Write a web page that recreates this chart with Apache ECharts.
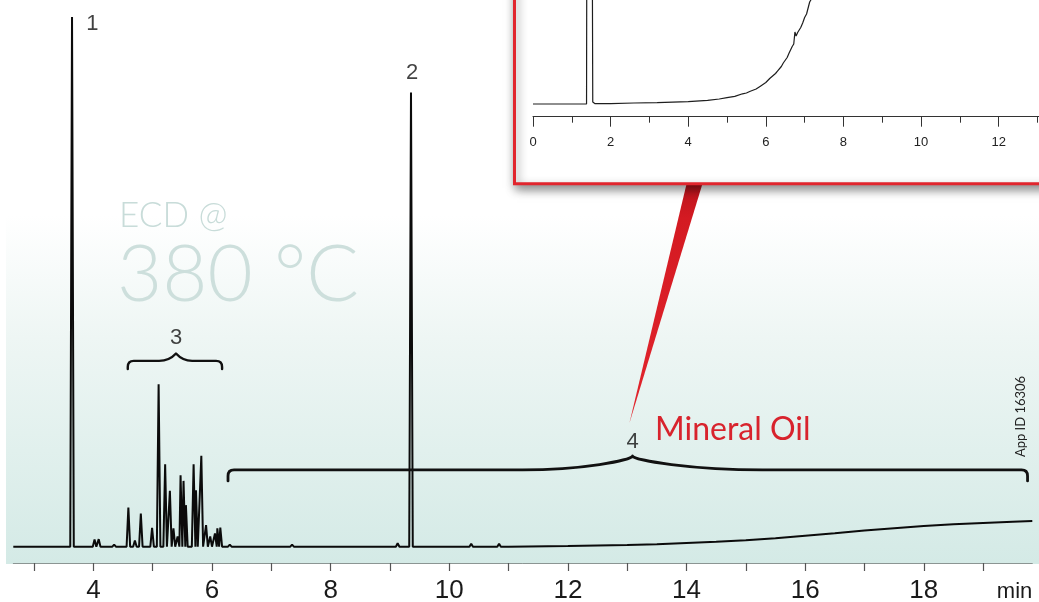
<!DOCTYPE html>
<html>
<head>
<meta charset="utf-8">
<script src="https://cdn.jsdelivr.net/npm/echarts@6/dist/echarts.min.js"></script>
<style>
  html, body { margin: 0; padding: 0; background: #ffffff; }
  #chart { width: 1039px; height: 602px; }
</style>
</head>
<body>
<div id="chart"></div>
<script>
// ECD trace, main run: retention time (min) and peak height (response units above baseline)
const peakTimes = [3.64, 4.02, 4.09, 4.35, 4.59, 4.70, 4.80, 4.99, 5.10, 5.21, 5.29, 5.35, 5.42,
  5.47, 5.52, 5.56, 5.69, 5.73, 5.82, 5.90, 5.97, 6.05, 6.09, 6.14, 6.30, 7.35, 7.67, 8.72, 9.13,
  9.355, 10.37, 10.84];
const peakHeights = [260, 3.6, 3.7, 1.0, 19.2, 3.0, 16.3, 9.2, 79.7, 40.4, 27.4, 9.0, 5.0,
  35.1, 32.3, 20.4, 40.5, 27.7, 44.6, 10.6, 5.0, 6.5, 9.0, 9.4, 1.0, 1.0, 0.7, 0.7, 1.7,
  223, 1.5, 1.5];
const peakHalfWidth = 0.03;

// Baseline rise from the mineral oil hump (peak 4)
const driftTimes = [2.65, 11.0, 12.0, 13.0, 13.5, 14.0, 14.5, 15.0, 15.5, 16.0, 16.5, 17.0,
  17.5, 18.0, 18.5, 19.0, 19.5, 19.83];
const driftLevels = [0, 0, 0.3, 0.8, 1.2, 1.8, 2.4, 3.2, 4.2, 5.4, 6.6, 7.9,
  9.1, 10.2, 11.0, 11.6, 12.2, 12.6];

// Time axis
const tickValues = [3, 4, 5, 6, 7, 8, 9, 10, 11, 12, 13, 14, 15, 16, 17, 18, 19];
const labelValues = [4, 6, 8, 10, 12, 14, 16, 18];

// Inset: same sample at a lower temperature
const insetTimes = [0, 1.38, 1.40, 1.50, 1.54, 1.60, 2.0, 2.6, 3.2, 4.0, 4.5, 4.8, 5.0, 5.2,
  5.4, 5.5, 5.6, 5.75, 5.85, 6.0, 6.1, 6.15, 6.25, 6.3, 6.4, 6.45, 6.55, 6.6, 6.68, 6.72,
  6.75, 6.78, 6.82, 6.9, 6.95, 7.0, 7.05, 7.13, 7.25];
const insetLevels = [0, 0, 500, 500, 2.0, 0.3, 0.4, 1.0, 1.3, 2.3, 3.6, 5.0, 6.3, 7.6,
  10.2, 11.0, 12.8, 15.0, 17.6, 21.5, 25.5, 24.6, 30.5, 32.8, 37.5, 41.0, 46.5, 51.0, 57.5, 60.0,
  72.0, 68.0, 71.5, 76.5, 81.0, 86.5, 90.0, 102, 110];

// Peak numbers and their positions
const peakLabelTexts = ['1', '2', '3', '4'];
const peakLabelTimes = [3.985, 9.372, 5.393, 13.09];
const peakLabelLevels = [256.6, 232.5, 102.5, 51.4];

// Braces: start, end, cusp time, arm level, tip level, cusp level
const braceStarts = [4.58, 6.27];
const braceEnds = [6.17, 19.75];
const braceCusps = [5.393, 13.09];
const braceArmLevels = [91.2, 37.7];
const braceTipLevels = [87.2, 32.3];
const braceCuspLevels = [94.8, 44.5];

function buildTrace() {
  const pts = [[driftTimes[0], driftLevels[0]]];
  for (let i = 0; i < peakTimes.length; i++) {
    const t = peakTimes[i];
    pts.push([t - peakHalfWidth, 0], [t, peakHeights[i]], [t + peakHalfWidth, 0]);
  }
  for (let i = 1; i < driftTimes.length; i++) pts.push([driftTimes[i], driftLevels[i]]);
  return pts;
}

const braceData = braceStarts.map((s, i) => [s, braceEnds[i], braceCusps[i],
  braceArmLevels[i], braceTipLevels[i], braceCuspLevels[i]]);

function renderBrace(params, api) {
  const a = api.coord([api.value(0), api.value(3)]);
  const b = api.coord([api.value(1), api.value(3)]);
  const c = api.coord([api.value(2), api.value(5)]);
  const tip = api.coord([api.value(0), api.value(4)]);
  const y = a[1], yt = tip[1], yc = c[1], x0 = a[0], x1 = b[0], xc = c[0];
  const r = Math.min(6, (yt - y));
  const wl = Math.min(110, (xc - x0) * 0.35);
  const wr = Math.min(130, (x1 - xc) * 0.35);
  const h = y - yc;
  const d = [
    'M', x0, yt,
    'L', x0, y + r,
    'Q', x0, y, x0 + r, y,
    'L', xc - wl, y,
    'C', xc - wl * 0.45, y, xc - 2, y - h * 0.7, xc, yc,
    'C', xc + 2, y - h * 0.7, xc + wr * 0.45, y, xc + wr, y,
    'L', x1 - r, y,
    'Q', x1, y, x1, y + r,
    'L', x1, yt
  ].join(' ');
  return {
    type: 'path',
    shape: { pathData: d },
    style: { fill: 'none', stroke: '#111111', lineWidth: params.dataIndex === 0 ? 2.4 : 2.8, lineJoin: 'round', lineCap: 'round' }
  };
}

const chart = echarts.init(document.getElementById('chart'), null, { renderer: 'canvas' });

chart.setOption({
  animation: false,
  backgroundColor: '#ffffff',
  grid: [
    { left: 13.3, right: 6.7, top: 17, bottom: 39, outerBoundsMode: 'none', containLabel: false },
    { left: 533, right: 0, top: 0, height: 116.7, outerBoundsMode: 'none', containLabel: false }
  ],
  xAxis: [
    {
      type: 'value', gridIndex: 0, min: 2.65, max: 19.83,
      splitLine: { show: false },
      axisLine: { show: true, onZero: false, lineStyle: { color: '#8b9593', width: 1 } },
      axisTick: { show: true, customValues: tickValues, length: 8, lineStyle: { color: '#555555', width: 1.2 } },
      axisLabel: {
        customValues: labelValues, margin: 15, color: '#1a1a1a',
        fontFamily: '"Liberation Sans", Arial, sans-serif', fontSize: 26
      },
      name: 'min', nameLocation: 'end', nameGap: 0,
      nameTextStyle: {
        align: 'right', verticalAlign: 'top', padding: [18, 0, 0, 0],
        color: '#1a1a1a', fontFamily: '"Liberation Sans", Arial, sans-serif', fontSize: 22
      }
    },
    {
      type: 'value', gridIndex: 1, min: 0, max: 13.04, interval: 2,
      splitLine: { show: false },
      axisLine: { show: true, onZero: false, lineStyle: { color: '#333333', width: 1 } },
      axisTick: { show: true, length: 10, lineStyle: { color: '#333333', width: 1 } },
      minorTick: { show: true, splitNumber: 2, length: 6, lineStyle: { color: '#333333', width: 1 } },
      axisLabel: {
        margin: 19, color: '#222222', showMaxLabel: false,
        fontFamily: '"Liberation Sans", Arial, sans-serif', fontSize: 13
      }
    }
  ],
  yAxis: [
    { type: 'value', gridIndex: 0, min: -8, max: 260, show: false },
    { type: 'value', gridIndex: 1, min: -12.7, max: 104, show: false }
  ],
  series: [
    {
      name: 'ECD signal', type: 'line', xAxisIndex: 0, yAxisIndex: 0,
      data: buildTrace(), showSymbol: false, symbol: 'none',
      lineStyle: { color: '#0b0b0b', width: 2 }, z: 3
    },
    {
      name: 'Inset signal', type: 'line', xAxisIndex: 1, yAxisIndex: 1,
      data: insetTimes.map((t, i) => [t, insetLevels[i]]), showSymbol: false, symbol: 'none',
      lineStyle: { color: '#1e1e1e', width: 1.2 }, z: 3
    },
    {
      name: 'Peak numbers', type: 'scatter', xAxisIndex: 0, yAxisIndex: 0,
      symbolSize: 1, itemStyle: { color: 'rgba(0,0,0,0)' },
      data: peakLabelTimes.map((t, i) => ({ value: [t, peakLabelLevels[i]], name: peakLabelTexts[i] })),
      label: {
        show: true, position: 'inside', formatter: '{b}', color: '#111111',
        fontFamily: '"Liberation Sans", Arial, sans-serif', fontSize: 22
      },
      z: 4
    },
    {
      name: 'Braces', type: 'custom', xAxisIndex: 0, yAxisIndex: 0,
      data: braceData, renderItem: renderBrace, clip: false, z: 4
    }
  ],
  graphic: {
    elements: [
      {
        type: 'rect', z: -10, silent: true,
        shape: { x: 6, y: 215, width: 1040, height: 349 },
        style: {
          fill: new echarts.graphic.LinearGradient(0, 0, 0, 1, [
            { offset: 0, color: '#ffffff' },
            { offset: 0.35, color: '#eef6f4' },
            { offset: 1, color: '#d4eae6' }
          ])
        }
      },
      {
        type: 'text', z: -9, silent: true, x: 119, y: 216,
        style: {
          text: 'ECD @', fill: '#c8dcd9', fontSize: 35, fontWeight: 300,
          fontFamily: 'Lato, "Open Sans", sans-serif', verticalAlign: 'middle', align: 'left'
        }
      },
      {
        type: 'text', z: -9, silent: true, x: 117, y: 276,
        style: {
          text: '380 °C', fill: '#cddfdc', fontSize: 78, fontWeight: 300,
          fontFamily: 'Lato, "Open Sans", sans-serif', verticalAlign: 'middle', align: 'left'
        }
      },
      {
        type: 'polygon', z: -3, silent: true,
        shape: { points: [[687, 182], [703, 182], [629.3, 423.5]] },
        style: {
          fill: new echarts.graphic.LinearGradient(0, 0, 0, 1, [
            { offset: 0, color: '#b8141c' },
            { offset: 0.15, color: '#d41a22' },
            { offset: 1, color: '#e2252d' }
          ])
        }
      },
      {
        type: 'rect', z: -2, silent: true,
        shape: { x: 514.5, y: -20, width: 560, height: 203.7 },
        style: {
          fill: '#ffffff', stroke: '#e1252d', lineWidth: 3,
          shadowBlur: 10, shadowOffsetX: 2, shadowOffsetY: 4, shadowColor: 'rgba(0,0,0,0.45)'
        }
      },
      {
        type: 'text', z: 5, silent: true, x: 655, y: 430,
        style: {
          text: 'Mineral Oil', fill: '#d8232d', fontSize: 32,
          fontFamily: 'Lato, "Open Sans", sans-serif', verticalAlign: 'middle', align: 'left'
        }
      },
      {
        type: 'text', z: 5, silent: true, x: 1021, y: 416.5, rotation: Math.PI / 2,
        style: {
          text: 'App ID 16306', fill: '#222222', fontSize: 13,
          fontFamily: 'Lato, "Open Sans", sans-serif', verticalAlign: 'middle', align: 'center'
        }
      }
    ]
  }
});
</script>
</body>
</html>
